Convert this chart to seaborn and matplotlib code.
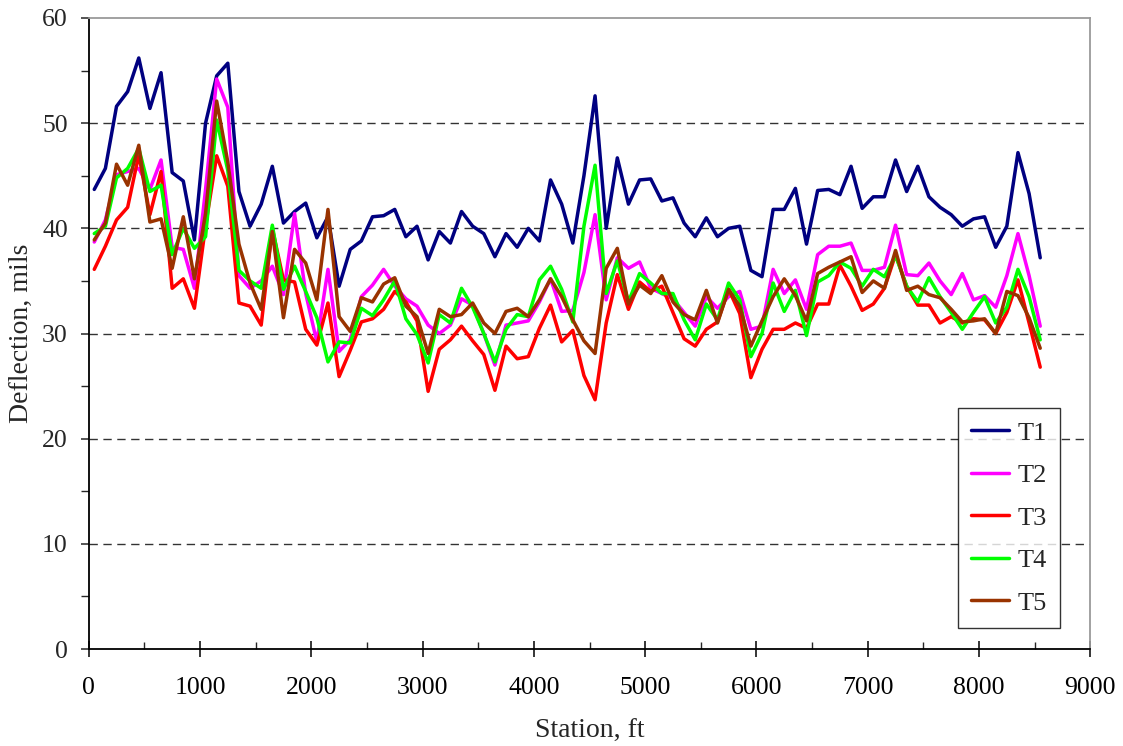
import numpy as np
import pandas as pd
import matplotlib
matplotlib.use("Agg")
import matplotlib.pyplot as plt
from matplotlib.ticker import MultipleLocator
import seaborn as sns

# Station positions (ft), one reading every 100 ft
station = list(range(50, 8551, 100))

t1 = [43.7, 45.7, 51.6, 53.0, 56.2, 51.4, 54.8, 45.3, 44.5, 38.9,
      50.0, 54.5, 55.7, 43.5, 40.2, 42.3, 45.9, 40.5, 41.6, 42.4,
      39.1, 41.1, 34.5, 38.0, 38.8, 41.1, 41.2, 41.8, 39.2, 40.2,
      37.0, 39.7, 38.6, 41.6, 40.2, 39.5, 37.3, 39.5, 38.2, 40.0,
      38.8, 44.6, 42.3, 38.6, 45.0, 52.6, 40.0, 46.7, 42.3, 44.6,
      44.7, 42.6, 42.9, 40.5, 39.2, 41.0, 39.2, 40.0, 40.2, 36.0,
      35.4, 41.8, 41.8, 43.8, 38.5, 43.6, 43.7, 43.2, 45.9, 41.9,
      43.0, 43.0, 46.5, 43.5, 45.9, 43.0, 42.0, 41.3, 40.2, 40.9,
      41.1, 38.2, 40.2, 47.2, 43.3, 37.2]

t2 = [38.7, 40.8, 45.1, 45.4, 45.7, 43.7, 46.5, 38.2, 38.0, 34.3,
      43.7, 54.2, 51.5, 35.5, 34.3, 35.0, 36.4, 33.7, 41.4, 33.8,
      29.2, 36.1, 28.3, 29.4, 33.5, 34.6, 36.1, 34.5, 33.3, 32.6,
      30.8, 30.0, 30.8, 33.3, 32.7, 30.0, 27.0, 30.8, 31.0, 31.2,
      33.0, 35.2, 32.1, 32.2, 35.8, 41.3, 33.2, 37.2, 36.2, 36.8,
      34.3, 33.8, 33.3, 32.0, 30.7, 33.5, 32.4, 33.5, 34.0, 30.4,
      30.7, 36.1, 33.8, 35.1, 32.3, 37.5, 38.3, 38.3, 38.6, 36.0,
      36.0, 36.3, 40.3, 35.6, 35.5, 36.7, 35.0, 33.7, 35.7, 33.2,
      33.6, 32.5, 35.5, 39.5, 35.5, 30.7]

t3 = [36.1, 38.3, 40.8, 42.0, 47.0, 41.3, 45.4, 34.3, 35.2, 32.4,
      40.2, 46.9, 44.0, 32.9, 32.6, 30.8, 40.0, 35.1, 34.9, 30.4,
      28.9, 32.9, 25.9, 28.4, 31.1, 31.4, 32.3, 34.0, 33.0, 31.2,
      24.5, 28.5, 29.4, 30.7, 29.3, 28.0, 24.6, 28.8, 27.6, 27.8,
      30.5, 32.7, 29.2, 30.3, 26.0, 23.7, 31.0, 35.6, 32.3, 34.9,
      34.0, 34.5, 32.0, 29.5, 28.8, 30.4, 31.1, 34.2, 31.9, 25.8,
      28.5, 30.4, 30.4, 31.0, 30.5, 32.8, 32.8, 36.5, 34.5, 32.2,
      32.8, 34.3, 37.5, 34.5, 32.7, 32.7, 31.0, 31.6, 31.0, 31.4,
      31.3, 30.0, 32.0, 35.1, 31.0, 26.8]

t4 = [39.5, 40.2, 44.8, 45.7, 47.6, 43.5, 44.1, 37.5, 40.0, 38.1,
      39.2, 50.3, 45.5, 36.0, 35.0, 34.3, 40.3, 34.2, 36.4, 34.0,
      31.5, 27.3, 29.2, 29.1, 32.4, 31.7, 33.2, 35.0, 31.4, 29.9,
      27.2, 31.8, 31.0, 34.3, 32.5, 30.0, 27.3, 30.4, 31.8, 31.6,
      35.1, 36.4, 34.2, 31.1, 40.2, 46.0, 33.8, 36.9, 33.0, 35.7,
      34.8, 33.8, 33.8, 31.3, 29.4, 32.8, 31.3, 34.8, 33.2, 27.8,
      30.0, 34.8, 32.1, 34.1, 29.8, 34.9, 35.5, 36.8, 36.2, 34.5,
      36.1, 35.4, 37.4, 34.5, 33.0, 35.3, 33.5, 32.0, 30.4, 32.0,
      33.5, 31.0, 32.5, 36.1, 33.5, 29.4]

t5 = [38.9, 40.5, 46.1, 44.1, 47.9, 40.6, 40.9, 36.2, 41.1, 35.2,
      41.4, 52.1, 46.3, 38.5, 34.8, 32.3, 39.7, 31.5, 38.0, 36.7,
      33.2, 41.8, 31.6, 30.2, 33.4, 33.0, 34.7, 35.3, 32.6, 31.6,
      28.1, 32.3, 31.6, 31.8, 32.9, 31.0, 30.0, 32.1, 32.4, 31.6,
      33.2, 35.2, 33.5, 31.3, 29.3, 28.1, 36.2, 38.1, 32.8, 34.6,
      33.8, 35.5, 33.0, 31.8, 31.3, 34.1, 31.0, 34.2, 32.6, 28.8,
      31.2, 33.5, 35.2, 33.6, 31.2, 35.7, 36.3, 36.8, 37.3, 33.9,
      35.0, 34.3, 37.9, 34.1, 34.5, 33.7, 33.4, 32.3, 31.1, 31.2,
      31.4, 30.0, 34.0, 33.6, 31.5, 28.6]

series_names = ["T1", "T2", "T3", "T4", "T5"]
series_values = [t1, t2, t3, t4, t5]
series_colors = ["#000080", "#FF00FF", "#FF0000", "#00FF00", "#993300"]

frames = [pd.DataFrame({"Station": station, "Deflection": vals, "Test": name})
          for name, vals in zip(series_names, series_values)]
df = pd.concat(frames, ignore_index=True)

sns.set_style("white")
plt.rcParams["font.family"] = ["Liberation Serif", "DejaVu Serif"]

fig = plt.figure(figsize=(11.23, 7.46), dpi=100)
ax = fig.add_axes([88.7 / 1123, 1 - 649 / 746, (1090.3 - 88.7) / 1123, (649 - 18) / 746])

LW = 2.5
sns.lineplot(data=df, x="Station", y="Deflection", hue="Test",
             hue_order=series_names, palette=series_colors,
             linewidth=LW, ax=ax, legend=True)
for line in ax.get_lines():
    line.set_solid_joinstyle("round")
    line.set_solid_capstyle("round")

ax.set_xlim(0, 9000)
ax.set_ylim(0, 60)
ax.xaxis.set_major_locator(MultipleLocator(1000))
ax.xaxis.set_minor_locator(MultipleLocator(500))
ax.yaxis.set_major_locator(MultipleLocator(10))
ax.yaxis.set_minor_locator(MultipleLocator(5))

# dashed horizontal gridlines
for yv in range(10, 60, 10):
    ax.axhline(yv, color="#333333", lw=1.0, ls=(0, (6, 4)), zorder=0.5)

for side in ["left", "bottom"]:
    ax.spines[side].set_color("black")
    ax.spines[side].set_linewidth(1.3)
for side in ["top", "right"]:
    ax.spines[side].set_color("#9a9a9a")
    ax.spines[side].set_linewidth(1.3)

ax.tick_params(axis="x", which="major", direction="inout", length=11, width=1.1,
               labelsize=18.5, pad=15, bottom=True, colors="black")
ax.tick_params(axis="x", which="minor", direction="in", length=5, width=1.0, bottom=True)
ax.tick_params(axis="y", which="major", direction="out", length=6, width=1.1,
               labelsize=18.5, pad=9, left=True)
ax.tick_params(axis="y", which="minor", direction="out", length=6, width=1.0, left=True)

ax.set_xlabel("Station, ft", fontsize=20, labelpad=14)
ax.set_ylabel("Deflection, mils", fontsize=20, labelpad=6)

handles, labels = ax.get_legend_handles_labels()
leg = ax.legend(handles, labels, loc="upper left",
                bbox_to_anchor=(958 / 1123, 1 - 408 / 746),
                bbox_transform=fig.transFigure, borderaxespad=0,
                fontsize=19, frameon=True, fancybox=False, shadow=False,
                handlelength=1.45, handletextpad=0.3, labelspacing=0.72,
                borderpad=0.5)
leg.get_frame().set_edgecolor("black")
leg.get_frame().set_linewidth(1.0)
for line in leg.get_lines():
    line.set_linewidth(LW)

fig.savefig("out.png", dpi=100)
